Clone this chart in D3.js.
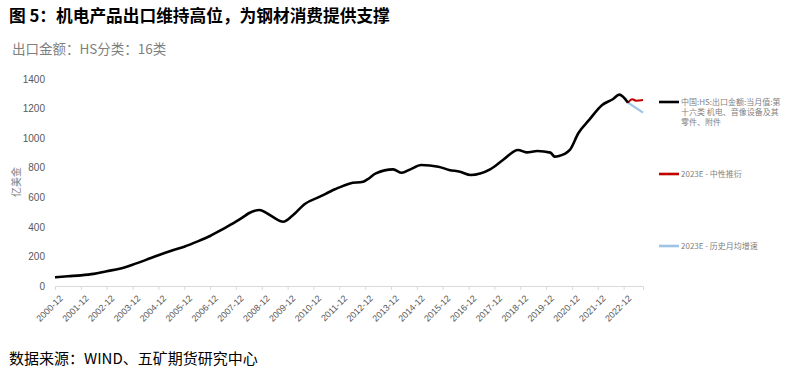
<!DOCTYPE html>
<html>
<head>
<meta charset="utf-8">
<script src="https://cdn.jsdelivr.net/npm/d3@7"></script>
<style>
  body { margin: 0; background: #fff; }
  svg { font-family: 'Noto Sans CJK SC', 'Noto Sans', sans-serif; }
</style>
</head>
<body>
<svg id="chart"></svg>
<script>
// 中国:HS:出口金额:当月值:第十六类
const histDates = ['2000-12', '2001-06', '2001-12', '2002-06', '2002-12', '2003-06', '2003-12', '2004-06', '2004-12',
  '2005-06', '2005-12', '2006-06', '2006-12', '2007-06', '2007-12', '2008-03', '2008-06', '2008-11', '2009-02',
  '2009-05', '2009-10', '2010-02', '2010-08', '2011-03', '2011-10', '2012-05', '2012-11', '2013-01', '2013-05',
  '2014-01', '2014-05', '2014-09', '2015-02', '2015-10', '2016-03', '2016-08', '2017-01', '2017-10', '2018-04',
  '2018-11', '2019-03', '2019-08', '2020-02', '2020-04', '2020-06', '2020-11', '2021-03', '2021-08', '2022-02',
  '2022-07', '2022-10', '2023-02']
const histValues = [59, 66, 72, 82, 100, 117, 144, 175, 208,
  238, 266, 300, 338, 385, 435, 462, 492, 514, 495,
  469, 435, 473, 555, 604, 654, 694, 705, 721, 762,
  789, 766, 789, 818, 807, 785, 773, 751, 789, 852,
  920, 904, 913, 902, 875, 879, 920, 1033, 1123, 1224,
  1263, 1294, 1240]

// 2023E - 中性推衍
const neutralDates = ['2023-02', '2023-04', '2023-06', '2023-09']
const neutralValues = [1240, 1263, 1253, 1258]

// 2023E - 历史月均增速
const avgDates = ['2023-02', '2023-09']
const avgValues = [1240, 1172]

const yTicks = [0, 200, 400, 600, 800, 1000, 1200, 1400]
const xTickYears = d3.range(2000, 2023)

const legendItems = [
  { lines: ['中国:HS:出口金额:当月值:第', '十六类 机电、音像设备及其', '零件、附件'], color: '#000000' },
  { lines: ['2023E - 中性推衍'], color: '#c00000' },
  { lines: ['2023E - 历史月均增速'], color: '#9dc3e6' },
]

const parse = d3.timeParse('%Y-%m')
const toSeries = (dates, values) => dates.map((d, i) => ({ date: parse(d), value: values[i] }))

const getChartConfig = () => {
  const width = 785
  const height = 378
  const margin = { top: 79, left: 55, bottom: 92, right: 142 }
  const bodyWidth = width - margin.left - margin.right
  const bodyHeight = height - margin.top - margin.bottom
  const container = d3.select('#chart').attr('width', width).attr('height', height)
  return { width, height, margin, bodyWidth, bodyHeight, container }
}

const getChartScale = (config) => {
  const { bodyWidth, bodyHeight } = config
  const xScale = d3.scaleTime()
    .domain([parse('2000-12'), parse('2023-09')])
    .range([0, bodyWidth])
  const yScale = d3.scaleLinear()
    .domain([0, 1400])
    .range([bodyHeight, 0])
  return { xScale, yScale }
}

const drawTexts = (config) => {
  const { container } = config
  container.append('text')
    .attr('x', 9).attr('y', 22)
    .style('font-size', '16.7px').style('font-weight', 'bold').style('fill', '#000')
    .text('图 5：机电产品出口维持高位，为钢材消费提供支撑')
  container.append('text')
    .attr('x', 12).attr('y', 54)
    .style('font-size', '13.5px').style('fill', '#7f7f7f')
    .text('出口金额：HS分类：16类')
  container.append('text')
    .attr('transform', 'translate(20,182) rotate(-90)')
    .attr('text-anchor', 'middle')
    .style('font-size', '10px').style('fill', '#7f7f7f')
    .text('亿美金')
  container.append('text')
    .attr('x', 9).attr('y', 364)
    .style('font-size', '15px').style('fill', '#000')
    .text('数据来源：WIND、五矿期货研究中心')
}

const drawAxes = (scales, config) => {
  const { xScale, yScale } = scales
  const { container, margin, bodyHeight } = config

  const axisY = d3.axisLeft(yScale).tickValues(yTicks).tickFormat(d3.format('d'))
    .tickSize(0).tickPadding(10)
  const gy = container.append('g')
    .attr('transform', `translate(${margin.left},${margin.top})`)
    .call(axisY)
  gy.select('.domain').remove()
  gy.selectAll('text').style('font-size', '10px').style('fill', '#595959')
    .style('font-family', "'Liberation Sans', 'Noto Sans', sans-serif")

  const axisX = d3.axisBottom(xScale)
    .tickValues(xTickYears.map((y) => new Date(y, 11, 1)))
    .tickFormat(d3.timeFormat('%Y-12'))
    .tickSize(4)
  const gx = container.append('g')
    .attr('transform', `translate(${margin.left},${margin.top + bodyHeight})`)
    .call(axisX)
  gx.select('.domain').attr('stroke', '#d9d9d9').attr('stroke-width', 1)
  gx.selectAll('.tick line').attr('stroke', '#d9d9d9')
  gx.selectAll('text')
    .style('font-size', '9px').style('fill', '#595959')
    .style('font-family', "'Liberation Sans', 'Noto Sans', sans-serif")
    .attr('text-anchor', 'end')
    .attr('dx', '0').attr('dy', '0')
    .attr('transform', 'translate(3,8) rotate(-45)')
}

const drawLines = (scales, config) => {
  const { xScale, yScale } = scales
  const { container, margin } = config
  const g = container.append('g').attr('transform', `translate(${margin.left},${margin.top})`)
  const line = d3.line()
    .x((d) => xScale(d.date))
    .y((d) => yScale(d.value))
    .curve(d3.curveMonotoneX)

  g.append('path').datum(toSeries(avgDates, avgValues))
    .attr('fill', 'none').attr('stroke', '#9dc3e6').attr('stroke-width', 2.2).attr('d', line)
  g.append('path').datum(toSeries(neutralDates, neutralValues))
    .attr('fill', 'none').attr('stroke', '#c00000').attr('stroke-width', 2.2).attr('d', line)
  g.append('path').datum(toSeries(histDates, histValues))
    .attr('fill', 'none').attr('stroke', '#000').attr('stroke-width', 2.6)
    .attr('stroke-linejoin', 'round').attr('d', line)
}

const drawLegend = (config) => {
  const { container } = config
  const ys = [102, 174, 246]
  legendItems.forEach((item, i) => {
    const g = container.append('g').attr('transform', `translate(659,${ys[i]})`)
    g.append('line').attr('x1', 0).attr('x2', 20).attr('y1', 0).attr('y2', 0)
      .attr('stroke', item.color).attr('stroke-width', 2.6)
    item.lines.forEach((t, j) => {
      g.append('text').attr('x', 22).attr('y', j * 10 + 3)
        .style('font-size', '8px').style('fill', '#7f7f7f')
        .text(t)
    })
  })
}

const config = getChartConfig()
const scales = getChartScale(config)
drawTexts(config)
drawAxes(scales, config)
drawLines(scales, config)
drawLegend(config)
</script>
</body>
</html>
